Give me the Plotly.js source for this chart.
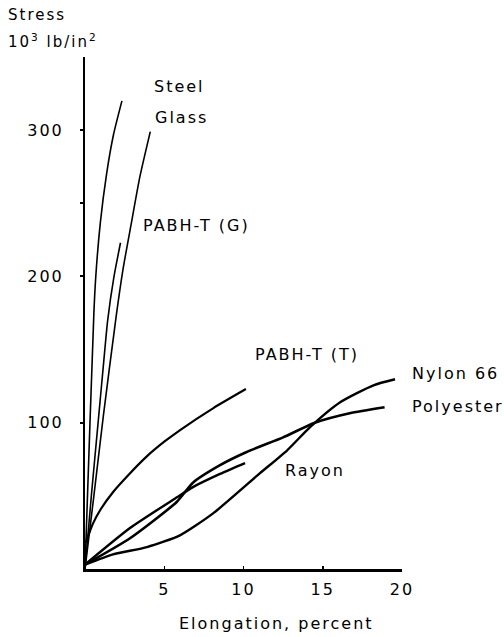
<!DOCTYPE html>
<html>
<head>
<meta charset="utf-8">
<script src="https://cdn.plot.ly/plotly-3.0.1.min.js"></script>
<style>
  html, body { margin: 0; padding: 0; background: #fff; }
  svg text { letter-spacing: 2px; }
</style>
</head>
<body>
<div id="chart" style="width:504px;height:637px;"></div>
<script>
// Elongation (percent) and stress (10^3 lb/in^2)
const steelStrain = [0, 0.12, 0.56, 0.68, 0.97, 1.36, 1.8, 2.33];
const steelStress = [0, 38, 175, 200, 237, 270, 297, 320];

const glassStrain = [0, 0.56, 1.15, 1.97, 2.4, 2.9, 3.46, 4.12];
const glassStress = [0, 50, 104, 173, 205, 235, 268, 299];

const pabhGStrain = [0, 0.4, 0.8, 1.15, 1.43, 1.83, 2.24];
const pabhGStress = [0, 50, 97, 138, 170, 200, 223];

const pabhTStrain = [0.05, 0.5, 1.0, 1.8, 2.8, 3.9, 5.0, 6.0, 8.1, 10.15];
const pabhTStress = [18, 31, 41, 53, 65, 77, 87, 95, 110, 123];

const nylonStrain = [0, 1.77, 3.91, 5.99, 8.08, 11.04, 12.74, 14.2, 16.1, 18.2, 19.56];
const nylonStress = [3, 10, 15, 23, 38, 65.5, 81, 97, 114, 125.6, 129.7];

const polyesterStrain = [0, 2.84, 5.8, 6.81, 8.52, 10.2, 12.5, 14.5, 16.7, 18.9];
const polyesterStress = [3, 21, 46, 59, 71, 80, 90, 100, 106.5, 110.6];

const rayonStrain = [0, 2.84, 5.8, 6.81, 8.52, 10.1];
const rayonStress = [3, 28, 49, 56, 65, 72.4];

const yTickVals = [100, 200, 300];
const yTickText = ['100', '200', '300'];
const yMinorTickVals = [250];
const xTickVals = [5, 10, 15, 20];
const xTickText = ['5', '10', '15', '20'];

const seriesNames = ['Steel', 'Glass', 'PABH-T (G)', 'PABH-T (T)', 'Nylon 66', 'Polyester', 'Rayon'];
const yTitleLines = ['Stress', '10<sup>3</sup> lb/in<sup>2</sup>'];
const xTitle = 'Elongation, percent';

const FONT = '"DejaVu Sans", sans-serif';
const W = 504, H = 637, ML = 85, MR = 102, MT = 57, MB = 68;
const PW = W - ML - MR, PH = H - MT - MB;

function curve(x, y, w) {
  return {
    x: x, y: y, type: 'scatter', mode: 'lines',
    line: { color: '#000', width: w, shape: 'spline', smoothing: 0.6 },
    hoverinfo: 'skip', showlegend: false, cliponaxis: false
  };
}

const data = [
  curve(steelStrain, steelStress, 1.6),
  curve(glassStrain, glassStress, 1.6),
  curve(pabhGStrain, pabhGStress, 1.6),
  curve(pabhTStrain, pabhTStress, 2.2),
  curve(nylonStrain, nylonStress, 2.4),
  curve(polyesterStrain, polyesterStress, 2.6),
  curve(rayonStrain, rayonStress, 2.4)
];

// label placed by page pixel position (left edge / centre, vertical middle)
function label(text, px, py, size, anchor) {
  return {
    text: text, x: (px - ML) / PW, y: (H - MB - py) / PH,
    xref: 'paper', yref: 'paper', showarrow: false,
    xanchor: anchor || 'left', yanchor: 'middle',
    font: { family: FONT, size: size || 16, color: '#000' }
  };
}

const layout = {
  width: W, height: H,
  margin: { l: ML, r: MR, t: MT, b: MB },
  paper_bgcolor: '#fff', plot_bgcolor: '#fff',
  showlegend: false,
  font: { family: FONT, size: 16, color: '#000' },
  xaxis: {
    range: [0, 20], showgrid: false, zeroline: false,
    showline: true, linecolor: '#000', linewidth: 2.5,
    tickvals: xTickVals, ticktext: xTickText,
    ticks: 'inside', ticklen: 3, tickwidth: 1.5, tickcolor: '#000',
    ticklabelstandoff: 4,
    tickfont: { family: FONT, size: 16, color: '#000' }
  },
  yaxis: {
    range: [0, 350], showgrid: false, zeroline: false,
    showline: true, linecolor: '#000', linewidth: 2,
    tickvals: yTickVals, ticktext: yTickText,
    ticks: 'outside', ticklen: 3, tickwidth: 2, tickcolor: '#000',
    minor: { tickvals: yMinorTickVals, ticks: 'outside', ticklen: 3, tickwidth: 2, tickcolor: '#000', showgrid: false },
    ticklabelstandoff: 13,
    tickfont: { family: FONT, size: 16, color: '#000' }
  },
  annotations: [
    label(yTitleLines[0], 6, 15, 15),
    label(yTitleLines[1], 6, 41, 15),
    label(seriesNames[0], 152, 86),
    label(seriesNames[1], 153, 117),
    label(seriesNames[2], 141, 225),
    label(seriesNames[3], 253, 354),
    label(seriesNames[4], 410, 373),
    label(seriesNames[5], 410, 406),
    label(seriesNames[6], 283, 470),
    label(xTitle, 276, 623, 16, 'center')
  ]
};

Plotly.newPlot('chart', data, layout, { staticPlot: true, displayModeBar: false });
</script>
</body>
</html>
